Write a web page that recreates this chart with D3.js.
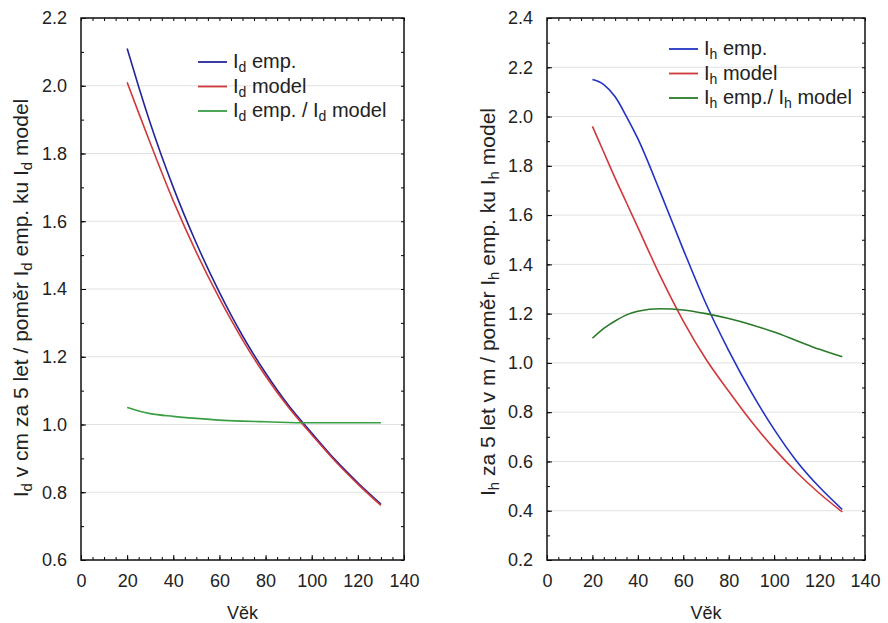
<!DOCTYPE html>
<html><head><meta charset="utf-8">
<script src="https://cdn.jsdelivr.net/npm/d3@7"></script>
<style>
body{margin:0;background:#fff;}
text{font-family:"Liberation Sans",Arial,sans-serif;fill:#222;}
</style></head>
<body>
<svg id="c" width="888" height="623"></svg>
<script>
// Left panel (I_d)
const ageD = [20,25,30,40,50,60,70,80,90,100,110,120,130];
const idEmp = [2.11,1.997,1.89,1.70,1.535,1.39,1.262,1.152,1.056,0.975,0.897,0.828,0.765];
const idModel = [2.01,1.92,1.831,1.66,1.508,1.372,1.25,1.143,1.05,0.970,0.893,0.824,0.761];
const idRatio = [1.05,1.04,1.032,1.024,1.018,1.013,1.01,1.008,1.006,1.005,1.005,1.005,1.005];
// Right panel (I_h)
const ageH = [20,25,30,35,40,50,60,70,80,90,100,110,120,130];
const ihEmp = [2.15,2.13,2.08,2.0,1.91,1.69,1.46,1.24,1.05,0.88,0.73,0.60,0.495,0.405];
const ihModel = [1.96,1.855,1.75,1.65,1.55,1.35,1.17,1.015,0.885,0.762,0.652,0.555,0.47,0.395];
const ihRatio = [1.10,1.14,1.17,1.195,1.21,1.22,1.215,1.20,1.18,1.155,1.125,1.09,1.055,1.025];

const xTicks = [0,20,40,60,80,100,120,140];
const yTicksD = [0.6,0.8,1.0,1.2,1.4,1.6,1.8,2.0,2.2];
const yTicksH = [0.2,0.4,0.6,0.8,1.0,1.2,1.4,1.6,1.8,2.0,2.2,2.4];

const svg = d3.select("#c");
const FS = "18px";

function rich(t, parts, fs, sub){
  parts.forEach(p=>{
    t.append("tspan").text(p[0]).attr("dy", p[1]==="sub"?4:(p[1]==="up"?-4:0))
      .style("font-size", p[1]==="sub"?sub:fs);
  });
}

function panel(o){
  const g = svg.append("g");
  const x = d3.scaleLinear().domain([0,140]).range([o.x0,o.x1]);
  const y = d3.scaleLinear().domain(o.yDom).range([o.y1,o.y0]);
  g.selectAll(".grid").data(o.yTicks).join("line")
    .attr("x1",o.x0).attr("x2",o.x1).attr("y1",d=>y(d)).attr("y2",d=>y(d))
    .attr("stroke","#e2e2e2").attr("stroke-width",1);
  const yMinor = d3.range(o.yDom[0], o.yDom[1]+1e-9, 0.1);
  const xMinor = d3.range(0, 140.001, 5);
  const noDom = a=>a.select(".domain").remove();
  g.append("g").attr("transform",`translate(${o.x0},0)`)
    .call(d3.axisRight(y).tickValues(yMinor).tickSize(3).tickFormat("")).call(noDom);
  g.append("g").attr("transform",`translate(${o.x1},0)`)
    .call(d3.axisLeft(y).tickValues(yMinor).tickSize(3).tickFormat("")).call(noDom);
  g.append("g").attr("transform",`translate(0,${o.y1})`)
    .call(d3.axisTop(x).tickValues(xMinor).tickSize(3).tickFormat("")).call(noDom);
  g.append("g").attr("transform",`translate(0,${o.y0})`)
    .call(d3.axisBottom(x).tickValues(xMinor).tickSize(3).tickFormat("")).call(noDom);
  const ya = g.append("g").attr("transform",`translate(${o.x0},0)`)
    .call(d3.axisLeft(y).tickValues(o.yTicks).tickSize(-5).tickPadding(14).tickFormat(d3.format(".1f")));
  ya.call(noDom);
  ya.selectAll("text").style("font-size",FS).attr("fill","#222");
  const xa = g.append("g").attr("transform",`translate(0,${o.y1})`)
    .call(d3.axisBottom(x).tickValues(xTicks).tickSize(-5).tickPadding(14).tickFormat(d3.format("d")));
  xa.call(noDom);
  xa.selectAll("text").style("font-size",FS).attr("fill","#222");
  g.append("rect").attr("x",o.x0).attr("y",o.y0).attr("width",o.x1-o.x0).attr("height",o.y1-o.y0)
    .attr("fill","none").attr("stroke","#111").attr("stroke-width",1.5);
  const line = d3.line().x((d,i)=>x(o.ages[i])).y(d=>y(d)).curve(d3.curveMonotoneX);
  o.series.forEach(s=>{
    g.append("path").datum(s.v).attr("d",line).attr("fill","none")
      .attr("stroke",s.c).attr("stroke-width",1.6);
  });
  o.series.forEach((s,i)=>{
    const ly = o.legY + i*o.legDy;
    g.append("line").attr("x1",o.legX).attr("x2",o.legX+29).attr("y1",ly).attr("y2",ly)
      .attr("stroke",s.c).attr("stroke-width",1.8);
    const t = g.append("text").attr("x",o.legX+35).attr("y",ly+6);
    rich(t, s.lab, "20px", "14px");
  });
  g.append("text").attr("x",(o.x0+o.x1)/2).attr("y",619).attr("text-anchor","middle")
    .style("font-size",FS).text("Věk");
  const yt = g.append("text").attr("transform",`translate(${o.ylx},${o.ylc}) rotate(-90)`)
    .attr("text-anchor","middle");
  rich(yt, o.ylab, "21px", "15px");
}

panel({x0:81,x1:404,y0:18,y1:560,yDom:[0.6,2.2],yTicks:yTicksD,ages:ageD,
  legX:198,legY:62,legDy:24.5,ylx:28,ylc:298,
  series:[
    {v:idEmp,c:"#25259a",lab:[["I",""],["d","sub"],[" emp.","up"]]},
    {v:idModel,c:"#d0393b",lab:[["I",""],["d","sub"],[" model","up"]]},
    {v:idRatio,c:"#3a9e44",lab:[["I",""],["d","sub"],[" emp. / I","up"],["d","sub"],[" model","up"]]}
  ],
  ylab:[["I",""],["d","sub"],[" v cm za 5 let / poměr I","up"],["d","sub"],[" emp. ku I","up"],["d","sub"],[" model","up"]]
});
panel({x0:547,x1:865,y0:18,y1:560,yDom:[0.2,2.4],yTicks:yTicksH,ages:ageH,
  legX:669,legY:49,legDy:24.5,ylx:495,ylc:302,
  series:[
    {v:ihEmp,c:"#2233c4",lab:[["I",""],["h","sub"],[" emp.","up"]]},
    {v:ihModel,c:"#d0393b",lab:[["I",""],["h","sub"],[" model","up"]]},
    {v:ihRatio,c:"#2a7a2a",lab:[["I",""],["h","sub"],[" emp./ I","up"],["h","sub"],[" model","up"]]}
  ],
  ylab:[["I",""],["h","sub"],[" za 5 let v m / poměr I","up"],["h","sub"],[" emp. ku I","up"],["h","sub"],[" model","up"]]
});
</script>
</body></html>
